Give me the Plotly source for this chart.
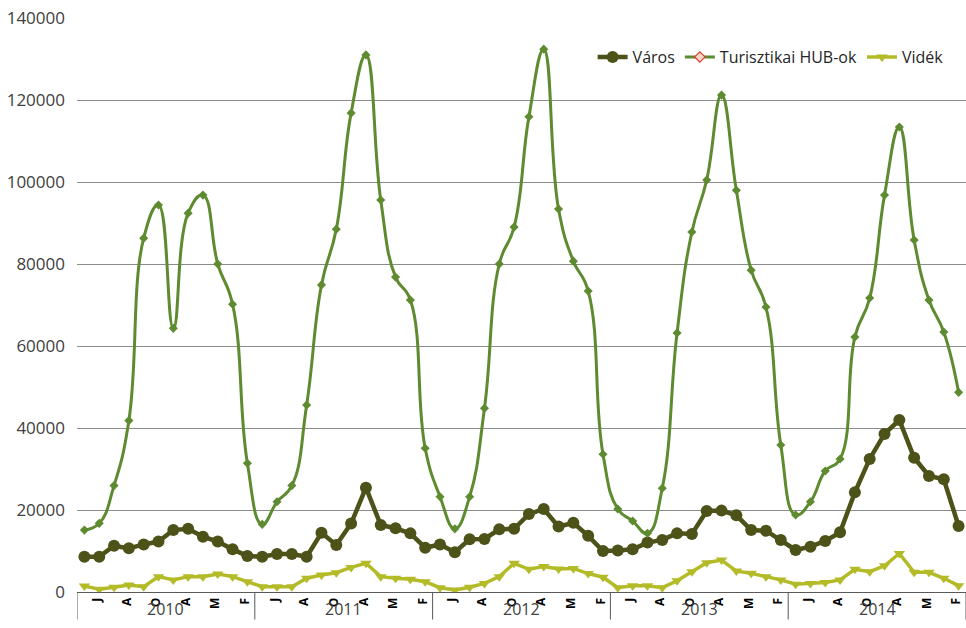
import plotly.graph_objects as go

years = ["2010", "2011", "2012", "2013", "2014"]
month_letters = ["J", "A", "O", "A", "M", "F"]

varos = [8600, 8600, 11300, 10650, 11600, 12300, 15100, 15400, 13500, 12300, 10400, 8800,
         8600, 9250, 9250, 8600, 14450, 11450, 16700, 25450, 16350, 15550, 14300, 10800,
         11600, 9700, 12850, 12950, 15300, 15400, 19000, 20250, 15950, 16900, 13700, 10000,
         10100, 10400, 12050, 12700, 14300, 14150, 19750, 19850, 18700, 15100, 14950, 12700,
         10250, 11050, 12450, 14550, 24300, 32450, 38550, 41950, 32750, 28300, 27500, 16100]

hub = [15100, 16750, 25950, 41800, 86300, 94400, 64300, 92400, 96800, 80000, 70200, 31400,
       16500, 22000, 25950, 45600, 74900, 88500, 116800, 131000, 95600, 76800, 71200, 35050,
       23250, 15400, 23250, 44800, 80000, 89000, 115900, 132400, 93400, 80700, 73400, 33600,
       20250, 17300, 14300, 25300, 63200, 87800, 100500, 121200, 98000, 78500, 69500, 35850,
       18800, 22000, 29500, 32450, 62200, 71700, 96800, 113400, 85850, 71200, 63400, 48700]

videk = [1450, 650, 1150, 1700, 1300, 3750, 2950, 3750, 3750, 4400, 3750, 2500,
         1300, 1300, 1300, 3350, 4150, 4700, 6000, 7000, 3750, 3350, 3100, 2500,
         1050, 500, 1150, 2100, 3750, 7000, 5550, 6200, 5600, 5750, 4500, 3600,
         1050, 1550, 1550, 1050, 2750, 4950, 7150, 7800, 5100, 4550, 3750, 2950,
         1900, 2100, 2300, 2950, 5550, 4950, 6400, 9400, 4800, 4800, 3350, 1550]

n = len(varos)
x = list(range(n))

c_varos = "#4d5219"
c_hub = "#5e8b30"
c_videk = "#b3bb28"
FONT = "Open Sans"

fig = go.Figure()

fig.add_trace(go.Scatter(
    x=x, y=varos, name="Város", mode="lines+markers",
    line=dict(color=c_varos, width=4.5),
    marker=dict(symbol="circle", size=12, color=c_varos),
))
fig.add_trace(go.Scatter(
    x=x, y=hub, name="Turisztikai HUB-ok", mode="lines+markers",
    line=dict(color=c_hub, width=3, shape="spline", smoothing=1.3),
    marker=dict(symbol="diamond", size=7, color=c_hub),
    showlegend=False,
))
fig.add_trace(go.Scatter(
    x=[None], y=[None], name="Turisztikai HUB-ok", mode="lines+markers",
    line=dict(color=c_hub, width=3),
    marker=dict(symbol="diamond", size=8, color="#f4d9c8",
                line=dict(color="#e8352a", width=1.2)),
))
fig.add_trace(go.Scatter(
    x=x, y=videk, name="Vidék", mode="lines+markers",
    line=dict(color=c_videk, width=3.5),
    marker=dict(symbol="triangle-down", size=10, color=c_videk),
))

# month tick labels (every second month) and year groups
tickvals, ticktext = [], []
for yi in range(len(years)):
    for k, lab in enumerate(month_letters):
        tickvals.append(yi * 12 + 2 * k + 0.85)
        ticktext.append(lab)

shapes = []
for yi in range(len(years) + 1):
    shapes.append(dict(type="line", xref="x", yref="paper",
                       x0=yi * 12 - 0.5, x1=yi * 12 - 0.5, y0=0, y1=-0.048,
                       line=dict(color="#595959", width=1)))

annotations = []
for yi, yr in enumerate(years):
    annotations.append(dict(text=yr, xref="x", yref="paper", x=yi * 12 + 5.5, y=0,
                            yanchor="middle", xanchor="center", yshift=-17,
                            showarrow=False,
                            font=dict(family=FONT, size=16, color="#404040")))

fig.update_layout(
    width=966, height=628,
    margin=dict(l=77, r=0, t=18, b=36),
    paper_bgcolor="white", plot_bgcolor="white",
    font=dict(family=FONT, size=16, color="#404040"),
    shapes=shapes, annotations=annotations,
    legend=dict(orientation="h", x=0.58, y=0.932, xanchor="left", yanchor="middle",
                font=dict(family=FONT, size=16, color="#262626"),
                bgcolor="rgba(0,0,0,0)", itemwidth=30, tracegroupgap=0),
    xaxis=dict(range=[-0.5, n - 0.5], tickmode="array", tickvals=tickvals,
               ticktext=ticktext, tickangle=-90, showgrid=False, zeroline=False,
               showline=True, linecolor="#595959", linewidth=1, ticks="",
               tickfont=dict(family=FONT, size=12, color="#000000", weight="bold")),
    yaxis=dict(range=[0, 140000], tickmode="array",
               tickvals=[0, 20000, 40000, 60000, 80000, 100000, 120000, 140000],
               ticktext=["0", "20000", "40000", "60000", "80000", "100000", "120000", "140000"],
               showgrid=True, gridcolor="#8c8c8c", gridwidth=1, zeroline=False,
               showline=False, ticks="", ticklabelstandoff=11,
               tickfont=dict(family=FONT, size=17, color="#404040")),
)

fig.write_html("out.html", config={"displayModeBar": False},
               post_script="document.body.style.margin='0';document.body.style.overflow='hidden';")
